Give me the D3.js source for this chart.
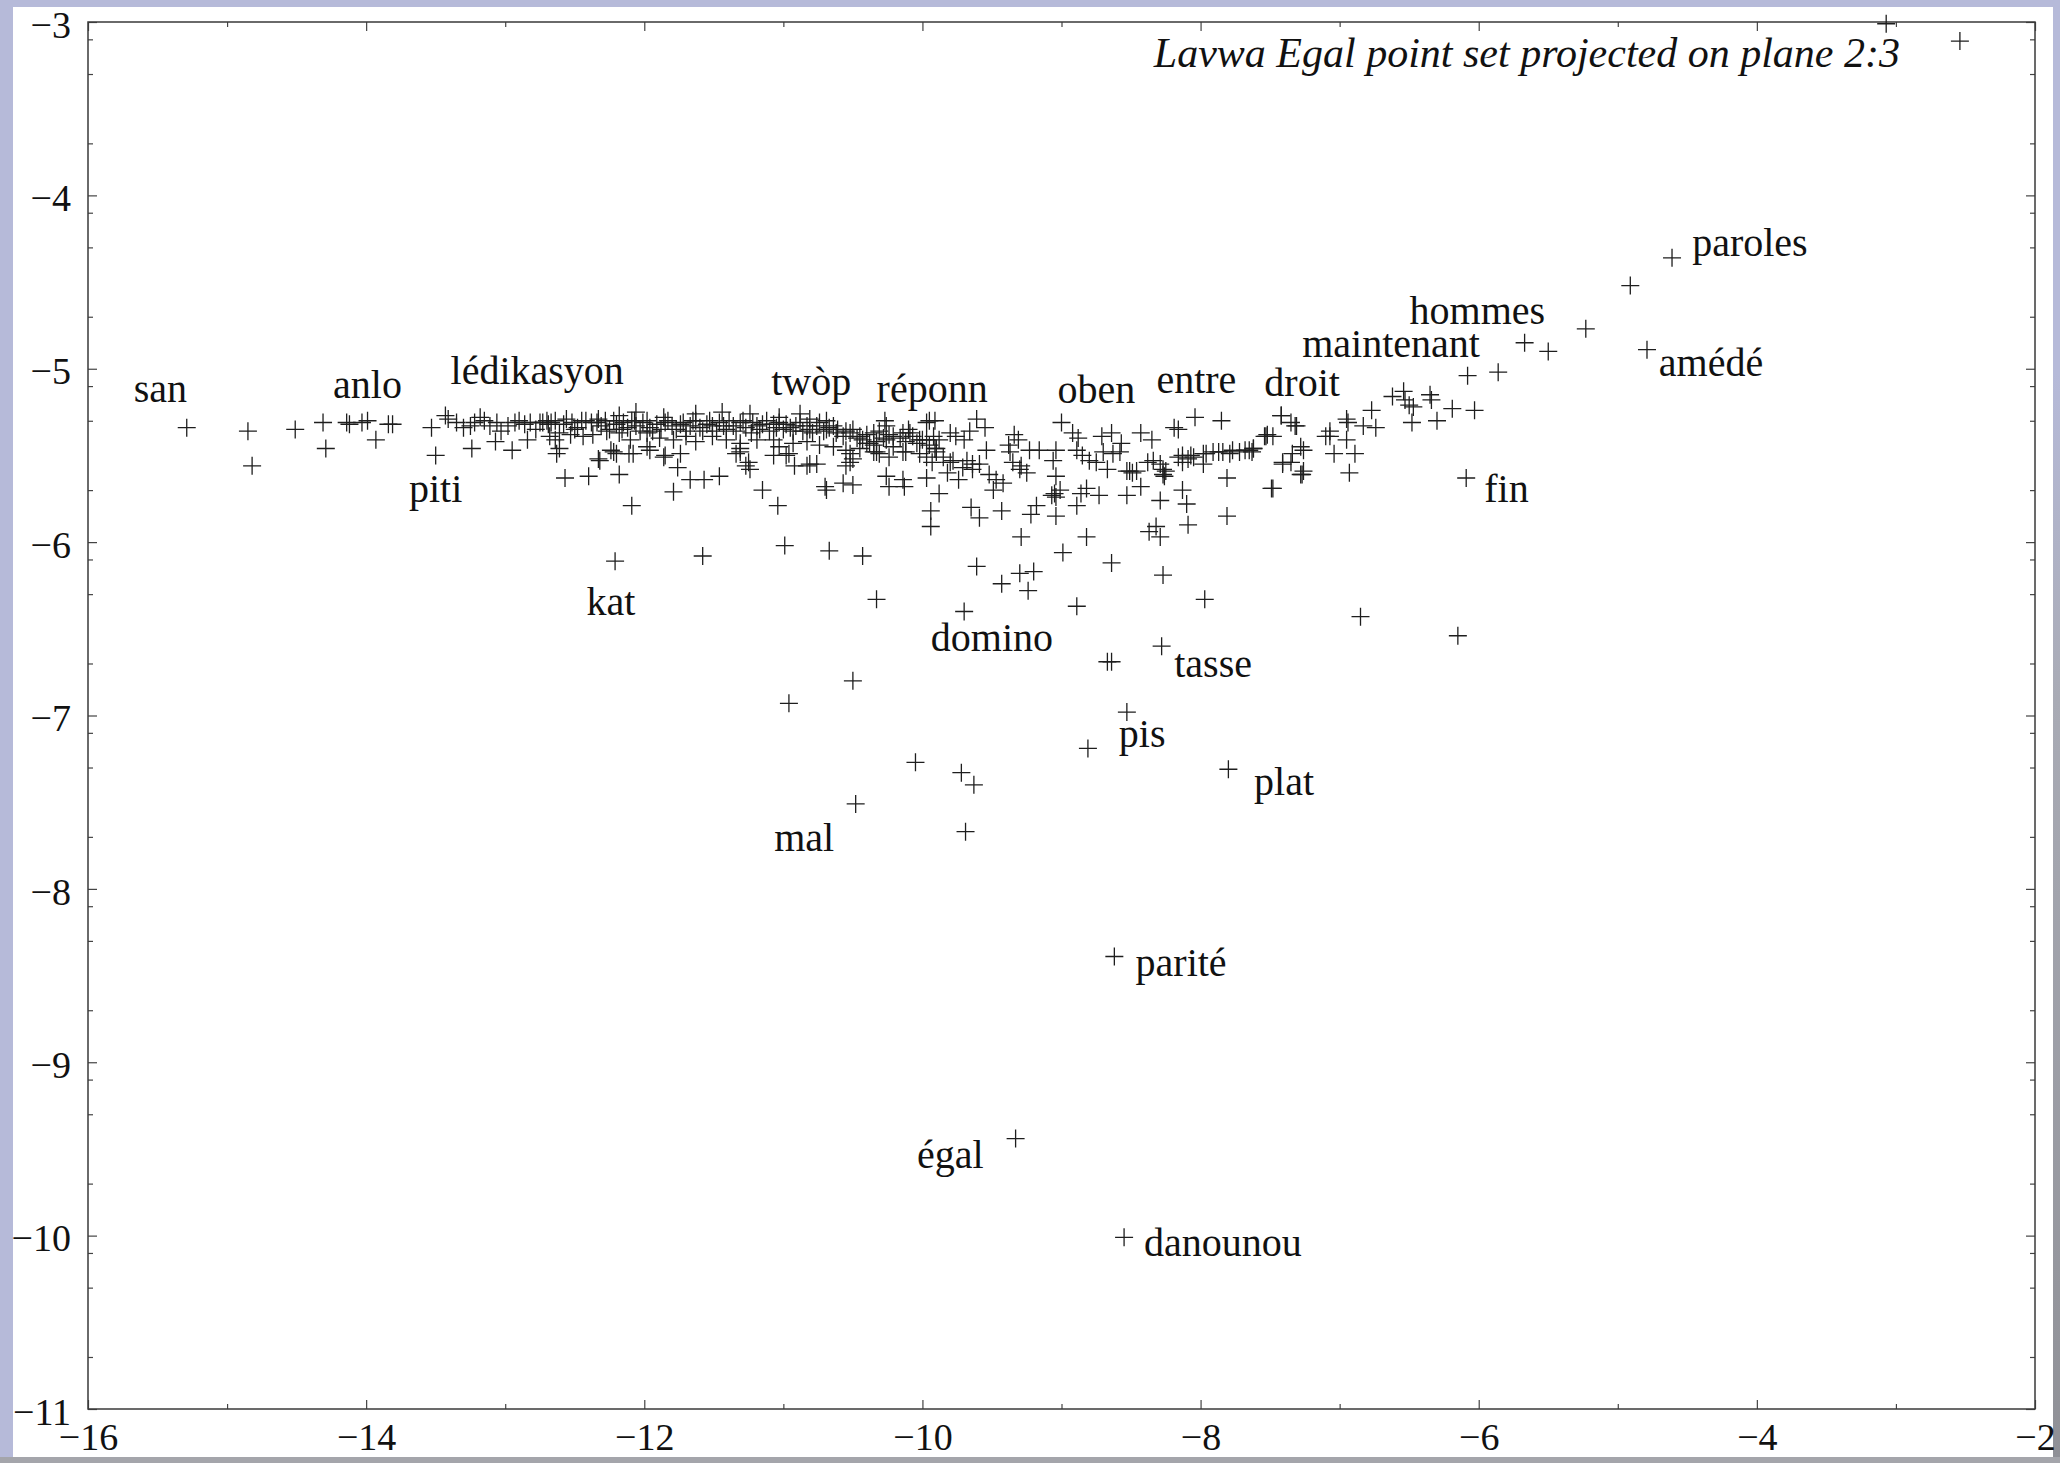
<!DOCTYPE html>
<html>
<head>
<meta charset="utf-8">
<script src="https://cdn.jsdelivr.net/npm/d3@7"></script>
<style>
  html, body { margin: 0; padding: 0; background: #b6bad9; }
  svg { display: block; }
</style>
</head>
<body>
<svg id="chart" width="2060" height="1463"></svg>
<script>
// ---- axis ticks ----
const xMajor = [-16, -14, -12, -10, -8, -6, -4, -2];
const xMinor = [-15, -13, -11, -9, -7, -5, -3];
const yMajor = [-11, -10, -9, -8, -7, -6, -5, -4, -3];
const yMinor = [-3.1, -3.3, -3.7, -4.1, -4.3, -4.7, -5.1, -5.3, -5.7, -6.1, -6.3, -6.7,
                -7.1, -7.3, -7.7, -8.1, -8.3, -8.7, -9.1, -9.3, -9.7, -10.1, -10.3, -10.7];

const titleText = "Lavwa Egal point set projected on plane 2:3";

// ---- projected points (plane 2:3) ----
const farLeft = [
  [-15.29,-5.34],[-14.85,-5.36],[-14.82,-5.56],[-14.51,-5.35],[-14.31,-5.31],[-14.29,-5.46],
  [-14.14,-5.31],[-14.12,-5.32],[-14.03,-5.31],[-13.99,-5.30],[-13.93,-5.41],[-13.84,-5.32],
  [-13.81,-5.32],[-13.53,-5.34],[-13.50,-5.50],[-13.43,-5.27],[-13.41,-5.29],[-13.35,-5.31],
  [-13.30,-5.34],[-13.25,-5.33],[-13.22,-5.31],[-13.18,-5.28],[-13.15,-5.30],[-13.11,-5.33],
  [-13.06,-5.31],[-13.03,-5.36],[-12.98,-5.33],[-12.93,-5.31],[-12.90,-5.30],[-12.86,-5.32],
  [-12.82,-5.31],[-12.78,-5.35],[-12.73,-5.31],[-12.69,-5.32],[-13.24,-5.46],[-13.07,-5.42],
  [-12.95,-5.47],[-12.84,-5.41]
];

const denseBand = [
  [-12.70,-5.30],[-12.67,-5.31],[-12.58,-5.32],[-12.52,-5.31],[-12.48,-5.34],[-12.42,-5.30],
  [-12.38,-5.31],[-12.34,-5.31],[-12.31,-5.33],[-12.25,-5.35],[-12.20,-5.32],[-12.15,-5.31],
  [-12.12,-5.34],[-12.07,-5.30],[-12.06,-5.33],[-12.01,-5.31],[-11.96,-5.34],[-11.91,-5.32],
  [-11.85,-5.31],[-11.80,-5.33],[-11.77,-5.35],[-11.72,-5.31],[-11.67,-5.33],[-11.63,-5.30],
  [-11.60,-5.34],[-11.55,-5.32],[-11.51,-5.33],[-11.46,-5.31],[-11.41,-5.35],[-11.36,-5.33],
  [-11.31,-5.31],[-11.27,-5.34],[-11.23,-5.37],[-11.19,-5.33],[-11.15,-5.32],[-11.10,-5.36],
  [-11.05,-5.34],[-11.00,-5.35],[-10.95,-5.34],[-10.91,-5.33],[-10.86,-5.36],[-10.81,-5.35],
  [-10.76,-5.33],[-10.71,-5.36],[-10.67,-5.34],[-10.62,-5.37],[-10.57,-5.39],[-10.52,-5.37],
  [-10.47,-5.40],[-10.43,-5.41],[-10.38,-5.43],[-10.33,-5.42],[-10.28,-5.40],[-10.24,-5.38],
  [-10.16,-5.40],[-10.12,-5.42],[-10.04,-5.43],[-10.00,-5.41],[-9.95,-5.44],[-9.90,-5.46],
  [-9.97,-5.51],[-9.93,-5.54],
  [-12.68,-5.39],[-12.61,-5.37],[-12.53,-5.38],[-12.44,-5.39],[-12.37,-5.38],[-12.27,-5.36],
  [-12.18,-5.37],[-12.10,-5.41],[-11.98,-5.37],[-11.89,-5.40],[-11.79,-5.41],[-11.70,-5.39],
  [-11.63,-5.42],[-11.51,-5.39],[-11.41,-5.41],[-11.31,-5.43],[-11.19,-5.41],[-11.07,-5.41],
  [-11.03,-5.45],[-10.93,-5.43],[-10.83,-5.42],[-10.74,-5.44],[-10.64,-5.45],[-10.55,-5.47],
  [-10.45,-5.46],[-10.35,-5.48],[-10.31,-5.49],[-10.21,-5.45],[-10.12,-5.48],[-10.02,-5.49],
  [-12.18,-5.27],[-12.06,-5.25],[-11.86,-5.28],[-11.63,-5.26],[-11.44,-5.25],[-11.24,-5.26],
  [-11.03,-5.28],[-10.88,-5.26],[-10.81,-5.29],[-10.69,-5.30],[-10.27,-5.30],[-10.10,-5.35],
  [-9.95,-5.30],
  [-12.75,-5.31],[-12.64,-5.30],[-12.56,-5.29],[-12.50,-5.35],[-12.45,-5.30],[-12.33,-5.29],
  [-12.28,-5.30],[-12.22,-5.30],[-12.16,-5.35],[-12.09,-5.30],[-12.03,-5.36],[-11.98,-5.30],
  [-11.94,-5.36],[-11.88,-5.35],[-11.83,-5.30],[-11.74,-5.32],[-11.70,-5.36],[-11.65,-5.30],
  [-11.58,-5.36],[-11.53,-5.30],[-11.48,-5.36],[-11.43,-5.33],[-11.39,-5.30],[-11.34,-5.36],
  [-11.29,-5.30],[-11.22,-5.31],[-11.17,-5.35],[-11.12,-5.30],[-11.07,-5.32],[-11.03,-5.31],
  [-10.98,-5.32],[-10.93,-5.36],[-10.88,-5.31],[-10.83,-5.33],[-10.79,-5.37],[-10.74,-5.31],
  [-10.69,-5.35],[-10.64,-5.33],[-10.61,-5.35],[-10.55,-5.36],[-10.50,-5.35],[-10.45,-5.39],
  [-10.40,-5.38],[-10.35,-5.37],[-10.31,-5.36],[-10.26,-5.41],[-10.21,-5.39],[-10.14,-5.37],
  [-10.07,-5.39],[-10.02,-5.41],[-9.97,-5.41],[-9.92,-5.39]
];

const underBand = [
  [-12.57,-5.63],[-12.40,-5.62],[-12.18,-5.61],[-12.33,-5.52],[-12.22,-5.48],[-12.20,-5.49],
  [-12.08,-5.49],[-11.96,-5.47],[-11.85,-5.50],[-11.74,-5.49],[-11.76,-5.57],[-11.67,-5.64],
  [-11.57,-5.64],[-11.46,-5.62],[-11.79,-5.71],[-12.09,-5.79],[-11.31,-5.48],[-11.27,-5.56],
  [-11.24,-5.58],[-11.15,-5.70],[-11.04,-5.79],[-11.07,-5.50],[-10.98,-5.50],[-10.92,-5.56],
  [-10.81,-5.55],[-10.76,-5.55],[-10.70,-5.68],[-10.69,-5.70],[-10.57,-5.66],[-10.50,-5.67],
  [-10.55,-5.56],[-10.50,-5.52],[-10.52,-5.54],[-10.26,-5.62],[-10.24,-5.68],[-10.14,-5.64],
  [-10.13,-5.68],[-9.97,-5.63],[-9.94,-5.82],[-9.94,-5.91],[-10.26,-5.33],[-10.09,-5.37],
  [-9.97,-5.31],[-10.14,-5.48],[-10.24,-5.51],[-10.35,-5.44],[-10.33,-5.48],[-10.40,-5.43],
  [-12.64,-5.41],[-12.61,-5.46],[-12.63,-5.49],[-10.52,-5.49],[-11.25,-5.54],[-11.31,-5.46],
  [-11.34,-5.49],[-12.24,-5.47],[-12.11,-5.49],[-11.98,-5.45],[-11.86,-5.51],[-12.32,-5.53],
  [-10.96,-5.49],[-10.83,-5.56]
];

const midCluster = [
  [-9.91,-5.30],[-9.61,-5.29],[-9.55,-5.34],[-9.00,-5.31],[-8.04,-5.28],[-7.85,-5.30],
  [-7.42,-5.27],[-7.35,-5.31],[-7.31,-5.33],[-7.10,-5.39],[-8.19,-5.34],[-8.16,-5.35],
  [-8.43,-5.37],[-8.35,-5.41],[-8.64,-5.37],[-8.71,-5.39],[-8.57,-5.43],[-8.92,-5.37],
  [-8.88,-5.40],[-9.34,-5.38],[-9.31,-5.41],[-9.38,-5.44],[-9.80,-5.37],[-9.76,-5.39],
  [-9.66,-5.36],[-9.88,-5.41],[-9.70,-5.41],
  [-9.91,-5.46],[-9.78,-5.53],[-9.64,-5.55],[-9.59,-5.55],[-9.68,-5.53],[-9.54,-5.47],
  [-9.37,-5.48],[-9.35,-5.54],[-9.29,-5.56],[-9.23,-5.47],[-9.16,-5.47],[-9.06,-5.53],
  [-9.04,-5.47],[-8.89,-5.47],[-8.85,-5.50],[-8.80,-5.53],[-8.70,-5.48],[-8.63,-5.49],
  [-8.58,-5.48],[-8.75,-5.54],[-8.67,-5.58],[-8.51,-5.59],[-8.49,-5.60],[-8.38,-5.54],
  [-8.34,-5.53],[-8.29,-5.55],[-8.25,-5.59],[-8.26,-5.62],[-8.13,-5.50],[-8.09,-5.52],
  [-8.05,-5.51],[-7.98,-5.49],[-7.91,-5.48],[-7.84,-5.48],[-7.79,-5.49],[-7.72,-5.48],
  [-7.65,-5.47],[-7.62,-5.46],[-7.53,-5.39],[-7.48,-5.39],[-7.41,-5.54],[-7.35,-5.54],
  [-7.26,-5.47],[-7.27,-5.61],[-7.26,-5.59],[-7.81,-5.63],[-8.27,-5.58],[-8.13,-5.54],
  [-7.98,-5.55],
  [-8.16,-5.51],[-8.07,-5.50],[-7.96,-5.49],[-7.87,-5.48],[-7.77,-5.47],[-7.68,-5.47],
  [-7.63,-5.48],[-8.53,-5.59],[-8.46,-5.59],[-8.27,-5.61],[-9.07,-5.73],[-9.01,-5.70],
  [-9.90,-5.48],[-9.85,-5.51],[-9.80,-5.54],[-9.71,-5.57],[-9.64,-5.58],[-9.52,-5.61],
  [-9.47,-5.64],[-9.74,-5.64],[-9.82,-5.60],
  [-9.88,-5.72],[-9.49,-5.70],[-9.42,-5.66],[-9.25,-5.60],[-9.30,-5.58],[-9.04,-5.62],
  [-9.05,-5.72],[-9.04,-5.74],[-8.86,-5.72],[-8.73,-5.73],[-8.53,-5.73],[-8.43,-5.68],
  [-9.65,-5.80],[-9.59,-5.86],[-9.43,-5.82],[-9.22,-5.84],[-9.18,-5.79],[-9.04,-5.85],
  [-8.89,-5.79],[-8.82,-5.69],[-8.29,-5.76],[-8.13,-5.70],[-8.10,-5.78],[-7.81,-5.85],
  [-7.49,-5.69],[-9.29,-5.97],[-8.82,-5.97],[-8.37,-5.94],[-8.29,-5.97],[-8.32,-5.91],
  [-8.09,-5.90],[-8.99,-6.06]
];

const rightArm = [
  [-6.62,-5.16],[-6.54,-5.13],[-6.53,-5.18],[-6.50,-5.21],[-6.47,-5.22],[-6.35,-5.15],
  [-6.34,-5.18],[-6.19,-5.23],[-6.03,-5.24],[-6.48,-5.31],[-6.30,-5.30],[-6.77,-5.24],
  [-6.83,-5.33],[-6.74,-5.34],[-6.95,-5.29],[-6.94,-5.31],[-7.07,-5.36],[-7.07,-5.39],
  [-6.95,-5.41],[-7.04,-5.49],[-6.89,-5.49],[-6.93,-5.60],[-7.28,-5.45],[-7.34,-5.49],
  [-7.28,-5.61],[-7.41,-5.55],[-7.48,-5.69],[-7.42,-5.27],[-7.32,-5.33],[-7.52,-5.38],
  [-7.54,-5.39],[-7.62,-5.46],
  [-6.08,-5.04],[-5.86,-5.02],[-5.67,-4.85],[-5.50,-4.90],[-5.23,-4.77],[-4.91,-4.52],
  [-4.61,-4.36],[-4.79,-4.89],[-6.09,-5.63],[-6.85,-6.43],[-6.15,-6.54],
  [-3.07,-3.01],[-2.54,-3.11]
];

const lowerTail = [
  [-12.21,-6.11],[-11.58,-6.08],[-10.99,-6.02],[-10.67,-6.05],[-10.43,-6.08],[-10.33,-6.33],
  [-10.96,-6.93],[-10.50,-6.80],[-10.05,-7.27],[-9.72,-7.33],[-9.63,-7.40],[-10.48,-7.51],
  [-9.69,-7.67],[-9.70,-6.40],[-9.61,-6.14],[-9.43,-6.24],[-9.30,-6.18],[-9.20,-6.17],
  [-9.24,-6.28],[-8.89,-6.37],[-8.64,-6.12],[-8.27,-6.19],[-7.97,-6.33],[-8.67,-6.69],
  [-8.64,-6.69],[-8.28,-6.60],[-8.53,-6.98],[-8.81,-7.19],[-7.80,-7.31],[-8.62,-8.39],
  [-9.33,-9.44],[-8.55,-10.01]
];

// ---- word labels: text and anchor (centre of baseline) in plot units ----
const labelWords = ["san","anlo","lédikasyon","piti","kat","twòp","réponn","oben","entre","droit",
                    "maintenant","hommes","paroles","amédé","fin","domino","tasse","pis","plat",
                    "mal","parité","égal","danounou"];
const labelX = [-15.48,-13.99,-12.77,-13.50,-12.24,-10.80,-9.93,-8.75,-8.03,-7.27,
                -6.63,-6.01,-4.05,-4.33,-5.80,-9.50,-7.91,-8.42,-7.40,
                -10.85,-8.14,-9.80,-7.84];
const labelY = [-5.19,-5.17,-5.09,-5.77,-6.42,-5.15,-5.19,-5.20,-5.14,-5.16,
                -4.93,-4.74,-4.35,-5.04,-5.77,-6.63,-6.78,-7.18,-7.46,
                -7.78,-8.50,-9.61,-10.12];

// ---- drawing ----
const W = 2060, H = 1463;
const svg = d3.select("#chart");

// page backdrop and white sheet
svg.append("rect").attr("width", W).attr("height", H).attr("fill", "#b6bad9");
const grad = svg.append("defs").append("linearGradient")
  .attr("id", "edgeGray").attr("x1", 0).attr("y1", 0).attr("x2", 0).attr("y2", 1);
grad.append("stop").attr("offset", "0%").attr("stop-color", "#b6bad9");
grad.append("stop").attr("offset", "30%").attr("stop-color", "#a9abb5");
grad.append("stop").attr("offset", "100%").attr("stop-color", "#8f9096");
svg.append("rect").attr("x", 2053).attr("y", 373).attr("width", 7).attr("height", H - 373)
  .attr("fill", "url(#edgeGray)");
svg.append("rect").attr("x", 0).attr("y", 1457).attr("width", W).attr("height", 6)
  .attr("fill", "#a4a5ab");
svg.append("rect").attr("x", 13).attr("y", 7).attr("width", 2040).attr("height", 1450)
  .attr("fill", "#ffffff");

const x = d3.scaleLinear().domain([-16, -2]).range([88, 2035]);
const y = d3.scaleLinear().domain([-11, -3]).range([1409, 22]);

const fmt = d3.format("d");
const serif = "'Liberation Serif', 'Times New Roman', Times, serif";

function styleAxis(g, withText) {
  g.select(".domain").remove();
  g.selectAll(".tick line").attr("stroke", "#444").attr("stroke-width", 1.2);
  if (withText) {
    g.selectAll(".tick text").attr("font-family", serif).attr("font-size", 38).attr("fill", "#111");
  }
}

// bottom axis with labels, inward ticks
svg.append("g").attr("transform", `translate(0,${y(-11)})`)
  .call(d3.axisBottom(x).tickValues(xMajor).tickFormat(fmt).tickSize(-9).tickPadding(14))
  .call(g => styleAxis(g, true));
svg.append("g").attr("transform", `translate(0,${y(-11)})`)
  .call(d3.axisBottom(x).tickValues(xMinor).tickFormat("").tickSize(-5))
  .call(g => styleAxis(g, false));
// top mirror
svg.append("g").attr("transform", `translate(0,${y(-3)})`)
  .call(d3.axisTop(x).tickValues(xMajor).tickFormat("").tickSize(-9))
  .call(g => styleAxis(g, false));
svg.append("g").attr("transform", `translate(0,${y(-3)})`)
  .call(d3.axisTop(x).tickValues(xMinor).tickFormat("").tickSize(-5))
  .call(g => styleAxis(g, false));
// left axis with labels
svg.append("g").attr("transform", `translate(${x(-16)},0)`)
  .call(d3.axisLeft(y).tickValues(yMajor).tickFormat(fmt).tickSize(-9).tickPadding(17))
  .call(g => styleAxis(g, true))
  .call(g => g.selectAll(".tick text").attr("dy", "0.40em"));
svg.append("g").attr("transform", `translate(${x(-16)},0)`)
  .call(d3.axisLeft(y).tickValues(yMinor).tickFormat("").tickSize(-5))
  .call(g => styleAxis(g, false));
// right mirror
svg.append("g").attr("transform", `translate(${x(-2)},0)`)
  .call(d3.axisRight(y).tickValues(yMajor).tickFormat("").tickSize(-9))
  .call(g => styleAxis(g, false));
svg.append("g").attr("transform", `translate(${x(-2)},0)`)
  .call(d3.axisRight(y).tickValues(yMinor).tickFormat("").tickSize(-5))
  .call(g => styleAxis(g, false));

// frame
svg.append("rect")
  .attr("x", x(-16)).attr("y", y(-3))
  .attr("width", x(-2) - x(-16)).attr("height", y(-11) - y(-3))
  .attr("fill", "none").attr("stroke", "#3a3a3a").attr("stroke-width", 1.5);

// point markers
const allPoints = [].concat(farLeft, denseBand, underBand, midCluster, rightArm, lowerTail);
const arm = 9;
svg.append("g")
  .attr("stroke", "#1e1e1e").attr("stroke-width", 1.3).attr("fill", "none")
  .selectAll("path").data(allPoints).join("path")
  .attr("d", d => {
    const px = x(d[0]), py = y(d[1]);
    return `M${px - arm},${py}H${px + arm}M${px},${py - arm}V${py + arm}`;
  });

// word labels
svg.append("g")
  .attr("font-family", serif).attr("font-size", 40).attr("fill", "#111")
  .attr("text-anchor", "middle")
  .selectAll("text").data(labelWords).join("text")
  .attr("x", (d, i) => x(labelX[i]))
  .attr("y", (d, i) => y(labelY[i]))
  .text(d => d);

// title
svg.append("text")
  .attr("x", 1900).attr("y", 67)
  .attr("text-anchor", "end")
  .attr("font-family", serif).attr("font-style", "italic").attr("font-size", 42)
  .attr("fill", "#111")
  .text(titleText);
</script>
</body>
</html>
